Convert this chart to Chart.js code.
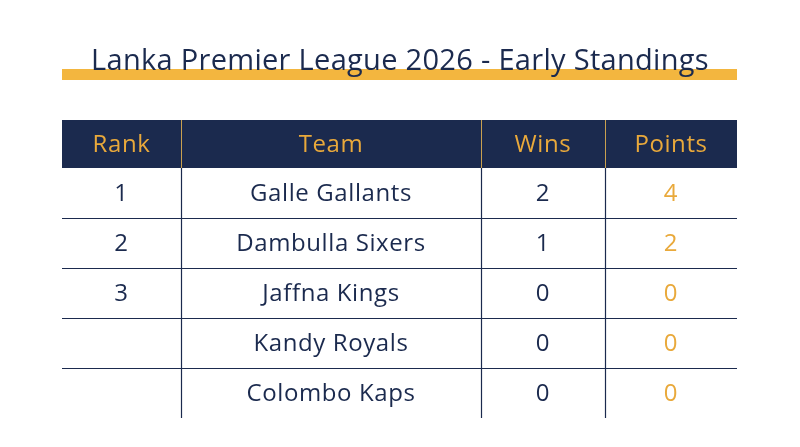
<!DOCTYPE html>
<html><head><meta charset="utf-8">
<script src="https://cdn.jsdelivr.net/npm/chart.js@4/dist/chart.umd.min.js"></script>
<style>html,body{margin:0;padding:0;background:#fff}#wrap{width:800px;height:447px}</style>
</head><body><div id="wrap"><canvas id="c" width="800" height="447"></canvas></div>
<script>
const title = "Lanka Premier League 2026 - Early Standings";
const headers = ["Rank", "Team", "Wins", "Points"];
const ranks = ["1", "2", "3", "", ""];
const teams = ["Galle Gallants", "Dambulla Sixers", "Jaffna Kings", "Kandy Royals", "Colombo Kaps"];
const wins = [2, 1, 0, 0, 0];
const points = [4, 2, 0, 0, 0];

const NAVY = "#1b2a4e", GOLD = "#e9a93b";
const colEdges = [62, 181, 481, 605, 737];
const headTop = 120, headBot = 168, rowH = 50;

const tablePlugin = {
  id: "table",
  afterDraw(chart) {
    const ctx = chart.ctx;
    ctx.save();
    ctx.textAlign = "center"; ctx.textBaseline = "middle";
    ctx.fillStyle = "#f3b63f";
    ctx.fillRect(62, 69, 675, 11);
    ctx.fillStyle = NAVY;
    ctx.font = "500 29px 'Open Sans', sans-serif";
    ctx.letterSpacing = "0.3px";
    ctx.fillText(title, 400, 62);
    ctx.fillStyle = NAVY;
    ctx.fillRect(62, headTop, 675, headBot - headTop);
    ctx.font = "24px 'Open Sans', sans-serif";
    ctx.letterSpacing = "0.6px";
    ctx.fillStyle = GOLD;
    headers.forEach((h, i) => ctx.fillText(h, (colEdges[i] + colEdges[i + 1]) / 2, (headTop + headBot) / 2 + 1));
    ctx.strokeStyle = "#c9a050"; ctx.lineWidth = 1;
    for (let i = 1; i < 4; i++) { ctx.beginPath(); ctx.moveTo(colEdges[i] + 0.5, headTop); ctx.lineTo(colEdges[i] + 0.5, headBot); ctx.stroke(); }
    const n = teams.length;
    const bottom = headBot + n * rowH;
    ctx.strokeStyle = NAVY; ctx.lineWidth = 1.2;
    for (let i = 1; i < 4; i++) { ctx.beginPath(); ctx.moveTo(colEdges[i] + 0.5, headBot); ctx.lineTo(colEdges[i] + 0.5, bottom); ctx.stroke(); }
    for (let r = 1; r < n; r++) { const y = headBot + r * rowH + 0.5; ctx.beginPath(); ctx.moveTo(62, y); ctx.lineTo(737, y); ctx.stroke(); }
    const cx = i => (colEdges[i] + colEdges[i + 1]) / 2;
    for (let r = 0; r < n; r++) {
      const y = headBot + r * rowH + rowH / 2 + 1;
      ctx.fillStyle = NAVY;
      ctx.fillText(ranks[r], cx(0), y);
      ctx.fillText(teams[r], cx(1), y);
      ctx.fillText(String(wins[r]), cx(2), y);
      ctx.fillStyle = GOLD;
      ctx.fillText(String(points[r]), cx(3), y);
    }
    ctx.restore();
  }
};

new Chart(document.getElementById("c"), {
  type: "bar",
  data: { labels: teams, datasets: [{ data: points, backgroundColor: "rgba(0,0,0,0)" }] },
  options: {
    responsive: false, animation: false,
    plugins: { legend: { display: false }, tooltip: { enabled: false } },
    scales: { x: { display: false }, y: { display: false } }
  },
  plugins: [tablePlugin]
});
</script></body></html>
